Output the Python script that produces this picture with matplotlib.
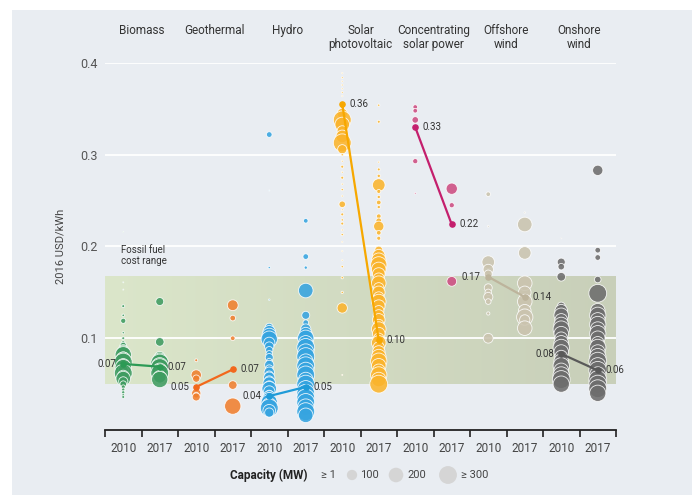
import matplotlib
matplotlib.use("Agg")
import matplotlib.pyplot as plt
import numpy as np
from matplotlib.patches import Rectangle
from matplotlib.colors import LinearSegmentedColormap

plt.rcParams['font.family'] = ['Roboto', 'DejaVu Sans']

# ---------------- data ----------------
categories = ["Biomass", "Geothermal", "Hydro", "Solar\nphotovoltaic",
              "Concentrating\nsolar power", "Offshore\nwind", "Onshore\nwind"]
years = ["2010", "2017"]
fossil_range = (0.05, 0.167)

biomass_2010_v = [0.216, 0.161, 0.153, 0.135, 0.125, 0.119, 0.106, 0.100, 0.095, 0.092, 0.088, 0.085,
                  0.082, 0.079, 0.077, 0.074, 0.071, 0.068, 0.065, 0.062, 0.059, 0.056, 0.053, 0.050,
                  0.047, 0.044, 0.041, 0.038, 0.036]
biomass_2010_c = [1, 1, 1, 8, 6, 25, 5, 8, 15, 40, 80, 150, 250, 120, 200, 300, 150, 250, 100, 300,
                  120, 200, 80, 40, 15, 10, 10, 8, 8]
biomass_2017_v = [0.140, 0.096, 0.080, 0.076, 0.073, 0.070, 0.068, 0.065, 0.062, 0.058, 0.055]
biomass_2017_c = [60, 70, 100, 200, 300, 250, 300, 200, 300, 150, 250]

geo_2010_v = [0.076, 0.060, 0.056, 0.040, 0.038, 0.036]
geo_2010_c = [8, 100, 50, 80, 30, 60]
geo_2017_v = [0.136, 0.122, 0.100, 0.049, 0.026]
geo_2017_c = [110, 30, 20, 70, 250]

hydro_2010_v = [0.322, 0.261, 0.177, 0.142, 0.112, 0.107, 0.103, 0.099, 0.095, 0.091, 0.087, 0.083,
                0.079, 0.075, 0.071, 0.067, 0.063, 0.060, 0.057, 0.054, 0.051, 0.048, 0.045, 0.042,
                0.039, 0.036, 0.033, 0.030, 0.027, 0.024, 0.021, 0.019]
hydro_2010_c = [30, 1, 5, 2, 60, 150, 200, 250, 120, 80, 50, 40, 60, 30, 80, 50, 100, 60, 120, 80,
                150, 100, 200, 120, 60, 150, 200, 250, 200, 300, 150, 80]
hydro_2017_v = [0.228, 0.189, 0.177, 0.152, 0.125, 0.117, 0.110, 0.105, 0.100, 0.095, 0.090, 0.085,
                0.080, 0.075, 0.070, 0.065, 0.060, 0.055, 0.050, 0.045, 0.040, 0.035, 0.030, 0.025,
                0.020, 0.016]
hydro_2017_c = [20, 30, 10, 200, 60, 30, 100, 150, 250, 200, 300, 250, 300, 200, 300, 250, 300, 200,
                300, 250, 300, 300, 300, 250, 300, 200]

pv_2010_v = [0.389, 0.384, 0.380, 0.376, 0.372, 0.368, 0.364, 0.352, 0.345, 0.338, 0.333, 0.326,
             0.320, 0.313, 0.306, 0.300, 0.293, 0.287, 0.281, 0.275, 0.268, 0.262, 0.255, 0.246,
             0.240, 0.235, 0.229, 0.225, 0.218, 0.213, 0.205, 0.195, 0.185, 0.178, 0.166, 0.150,
             0.133, 0.060]
pv_2010_c = [2, 3, 2, 3, 2, 3, 2, 15, 100, 300, 200, 100, 150, 300, 80, 5, 3, 8, 3, 8, 3, 5, 3, 40,
             3, 8, 5, 8, 3, 5, 2, 2, 2, 5, 5, 5, 100, 1]
pv_2017_v = [0.354, 0.336, 0.292, 0.284, 0.277, 0.267, 0.260, 0.254, 0.248, 0.243, 0.233, 0.228,
             0.222, 0.215, 0.209, 0.196, 0.190, 0.185, 0.180, 0.175, 0.170, 0.165, 0.160, 0.155,
             0.150, 0.145, 0.140, 0.135, 0.130, 0.125, 0.120, 0.115, 0.110, 0.105, 0.100, 0.095,
             0.090, 0.085, 0.080, 0.075, 0.070, 0.065, 0.060, 0.055, 0.050]
pv_2017_c = [5, 8, 3, 8, 10, 150, 15, 10, 20, 10, 20, 30, 100, 20, 15, 60, 150, 200, 250, 200, 150,
             120, 200, 100, 150, 100, 200, 150, 100, 120, 150, 100, 200, 150, 100, 200, 120, 150,
             200, 250, 200, 150, 250, 200, 300]

csp_2010_v = [0.352, 0.348, 0.338, 0.293, 0.258]
csp_2010_c = [20, 20, 40, 25, 3]
csp_2017_v = [0.263, 0.245, 0.162]
csp_2017_c = [120, 25, 90]

off_2010_v = [0.257, 0.222, 0.183, 0.175, 0.170, 0.155, 0.150, 0.145, 0.140, 0.127, 0.100]
off_2010_c = [20, 3, 150, 100, 60, 60, 40, 80, 30, 10, 90]
off_2017_v = [0.237, 0.224, 0.193, 0.160, 0.150, 0.140, 0.130, 0.123, 0.120, 0.111]
off_2017_c = [2, 200, 150, 200, 150, 200, 150, 250, 100, 200]

on_2010_v = [0.209, 0.183, 0.178, 0.167, 0.135, 0.130, 0.125, 0.120, 0.115, 0.110, 0.105, 0.100,
             0.095, 0.090, 0.085, 0.080, 0.075, 0.070, 0.065, 0.060, 0.055, 0.050]
on_2010_c = [1, 60, 40, 70, 60, 150, 200, 150, 200, 250, 200, 150, 200, 250, 200, 150, 200, 250,
             200, 250, 300, 250]
on_2017_v = [0.283, 0.196, 0.188, 0.164, 0.149, 0.130, 0.125, 0.120, 0.115, 0.110, 0.105, 0.100,
             0.095, 0.090, 0.085, 0.080, 0.075, 0.070, 0.065, 0.060, 0.055, 0.050, 0.045, 0.040]
on_2017_c = [100, 30, 30, 40, 300, 200, 250, 200, 250, 200, 250, 200, 150, 250, 200, 250, 300, 250,
             300, 250, 300, 300, 300, 250]

median_2010 = [0.072, 0.047, 0.037, 0.355, 0.330, 0.167, 0.083]
median_2017 = [0.069, 0.066, 0.047, 0.098, 0.224, 0.145, 0.065]
label_2010 = ["0.07", "0.05", "0.04", "0.36", "0.33", "0.17", "0.08"]
label_2017 = ["0.07", "0.07", "0.05", "0.10", "0.22", "0.14", "0.06"]

legend_caps = [1, 100, 200, 300]
legend_labels = ["\u2265 1", "100", "200", "\u2265 300"]

# ---------------- style ----------------
colors = ["#3f9c61", "#f07f2e", "#36a4e0", "#fbb42c", "#cd4d82", "#cac3ae", "#6d6d6d"]
line_colors = ["#2c9a55", "#f2681c", "#1f9bd8", "#f7a800", "#c41f6d", "#bdb49c", "#595959"]
label_left_2010 = [True, True, True, False, False, True, True]

groups = [(biomass_2010_v, biomass_2010_c, biomass_2017_v, biomass_2017_c),
          (geo_2010_v, geo_2010_c, geo_2017_v, geo_2017_c),
          (hydro_2010_v, hydro_2010_c, hydro_2017_v, hydro_2017_c),
          (pv_2010_v, pv_2010_c, pv_2017_v, pv_2017_c),
          (csp_2010_v, csp_2010_c, csp_2017_v, csp_2017_c),
          (off_2010_v, off_2010_c, off_2017_v, off_2017_c),
          (on_2010_v, on_2010_c, on_2017_v, on_2017_c)]

K = 0.55  # points^2 per MW
W, H = 697, 495
fig = plt.figure(figsize=(W / 100, H / 100), dpi=100)
fig.patch.set_facecolor("white")

bg = fig.add_axes([0, 0, 1, 1], zorder=-10)
bg.set_xlim(0, W); bg.set_ylim(H, 0); bg.axis("off")
bg.add_patch(Rectangle((12, 10), 680, 485, facecolor="#e9edf2", edgecolor="none"))

ax = fig.add_axes([105 / W, (H - 430) / H, 511 / W, 367 / H])
ax.set_facecolor("none")

grad = np.linspace(0, 1, 256).reshape(1, -1)
cmap = LinearSegmentedColormap.from_list("band", ["#dbe6ca", "#c8cfb9"])
ax.imshow(grad, extent=[0, 14, fossil_range[0], fossil_range[1]], aspect="auto",
          cmap=cmap, zorder=0.5, interpolation="bilinear")
ax.set_xlim(0, 14); ax.set_ylim(0, 0.4)

for yv in [0.1, 0.2, 0.3, 0.4]:
    ax.axhline(yv, color="white", lw=1.3, zorder=1)

for sp in ["top", "right", "left"]:
    ax.spines[sp].set_visible(False)
ax.spines["bottom"].set_color("#222222")
ax.spines["bottom"].set_linewidth(1.3)

ax.set_xticks(np.arange(0, 15))
ax.set_xticklabels([])
ax.tick_params(axis="x", which="major", length=5, width=1.2, color="#222222", direction="out")
ax.set_xticks(np.arange(14) + 0.5, minor=True)
ax.set_xticklabels(years * 7, minor=True)
ax.tick_params(axis="x", which="minor", length=0, pad=9, labelsize=8.5, labelcolor="#444444")

ax.set_yticks([0.1, 0.2, 0.3, 0.4])
ax.set_yticklabels(["0.1", "0.2", "0.3", "0.4"])
ax.tick_params(axis="y", length=0, pad=5, labelsize=9, labelcolor="#555555")
ax.set_ylabel("2016 USD/kWh", fontsize=8, color="#444444")
ax.yaxis.set_label_coords(-0.078, 0.5)

for i, (v10, c10, v17, c17) in enumerate(groups):
    x10, x17 = 2 * i + 0.5, 2 * i + 1.5
    for xv, vals, caps in [(x10, v10, c10), (x17, v17, c17)]:
        ax.scatter([xv] * len(vals), vals, s=np.array(caps) * K, color=colors[i], alpha=0.88,
                   edgecolors="white", linewidths=0.6, zorder=3, clip_on=False)
    ax.plot([x10, x17], [median_2010[i], median_2017[i]], color=line_colors[i], lw=1.6, zorder=4)
    ax.scatter([x10, x17], [median_2010[i], median_2017[i]], s=14, color=line_colors[i], zorder=5)
    if label_left_2010[i]:
        ax.text(x10 - 0.2, median_2010[i], label_2010[i], ha="right", va="center", fontsize=7,
                color="#333333", zorder=6)
    else:
        ax.text(x10 + 0.2, median_2010[i], label_2010[i], ha="left", va="center", fontsize=7,
                color="#333333", zorder=6)
    ax.text(x17 + 0.2, median_2017[i], label_2017[i], ha="left", va="center", fontsize=7,
            color="#333333", zorder=6)
    ax.text(2 * i + 1, 0.442, categories[i], ha="center", va="top", fontsize=8.5,
            color="#333333", linespacing=1.05, clip_on=False)

ax.text(0.45, 0.19, "Fossil fuel\ncost range", ha="left", va="center", fontsize=7,
        color="#333333", linespacing=1.15)

leg = fig.add_axes([0, 0, 1, 1], zorder=5)
leg.set_xlim(0, W); leg.set_ylim(H, 0); leg.axis("off")
leg.text(230, 475, "Capacity (MW)", ha="left", va="center", fontsize=8.5, fontweight="bold",
         color="#222222")
leg.text(321, 475, legend_labels[0], ha="left", va="center", fontsize=8, color="#444444")
circle_x = [352, 396, 448]
text_x = [360, 407, 461]
for cx, tx, cap, lab in zip(circle_x, text_x, legend_caps[1:], legend_labels[1:]):
    leg.scatter([cx], [475], s=cap * K, color="#d5d5d5", edgecolors="none")
    leg.text(tx, 475, lab, ha="left", va="center", fontsize=8, color="#444444")

fig.savefig("out.png", dpi=100, facecolor="white")
